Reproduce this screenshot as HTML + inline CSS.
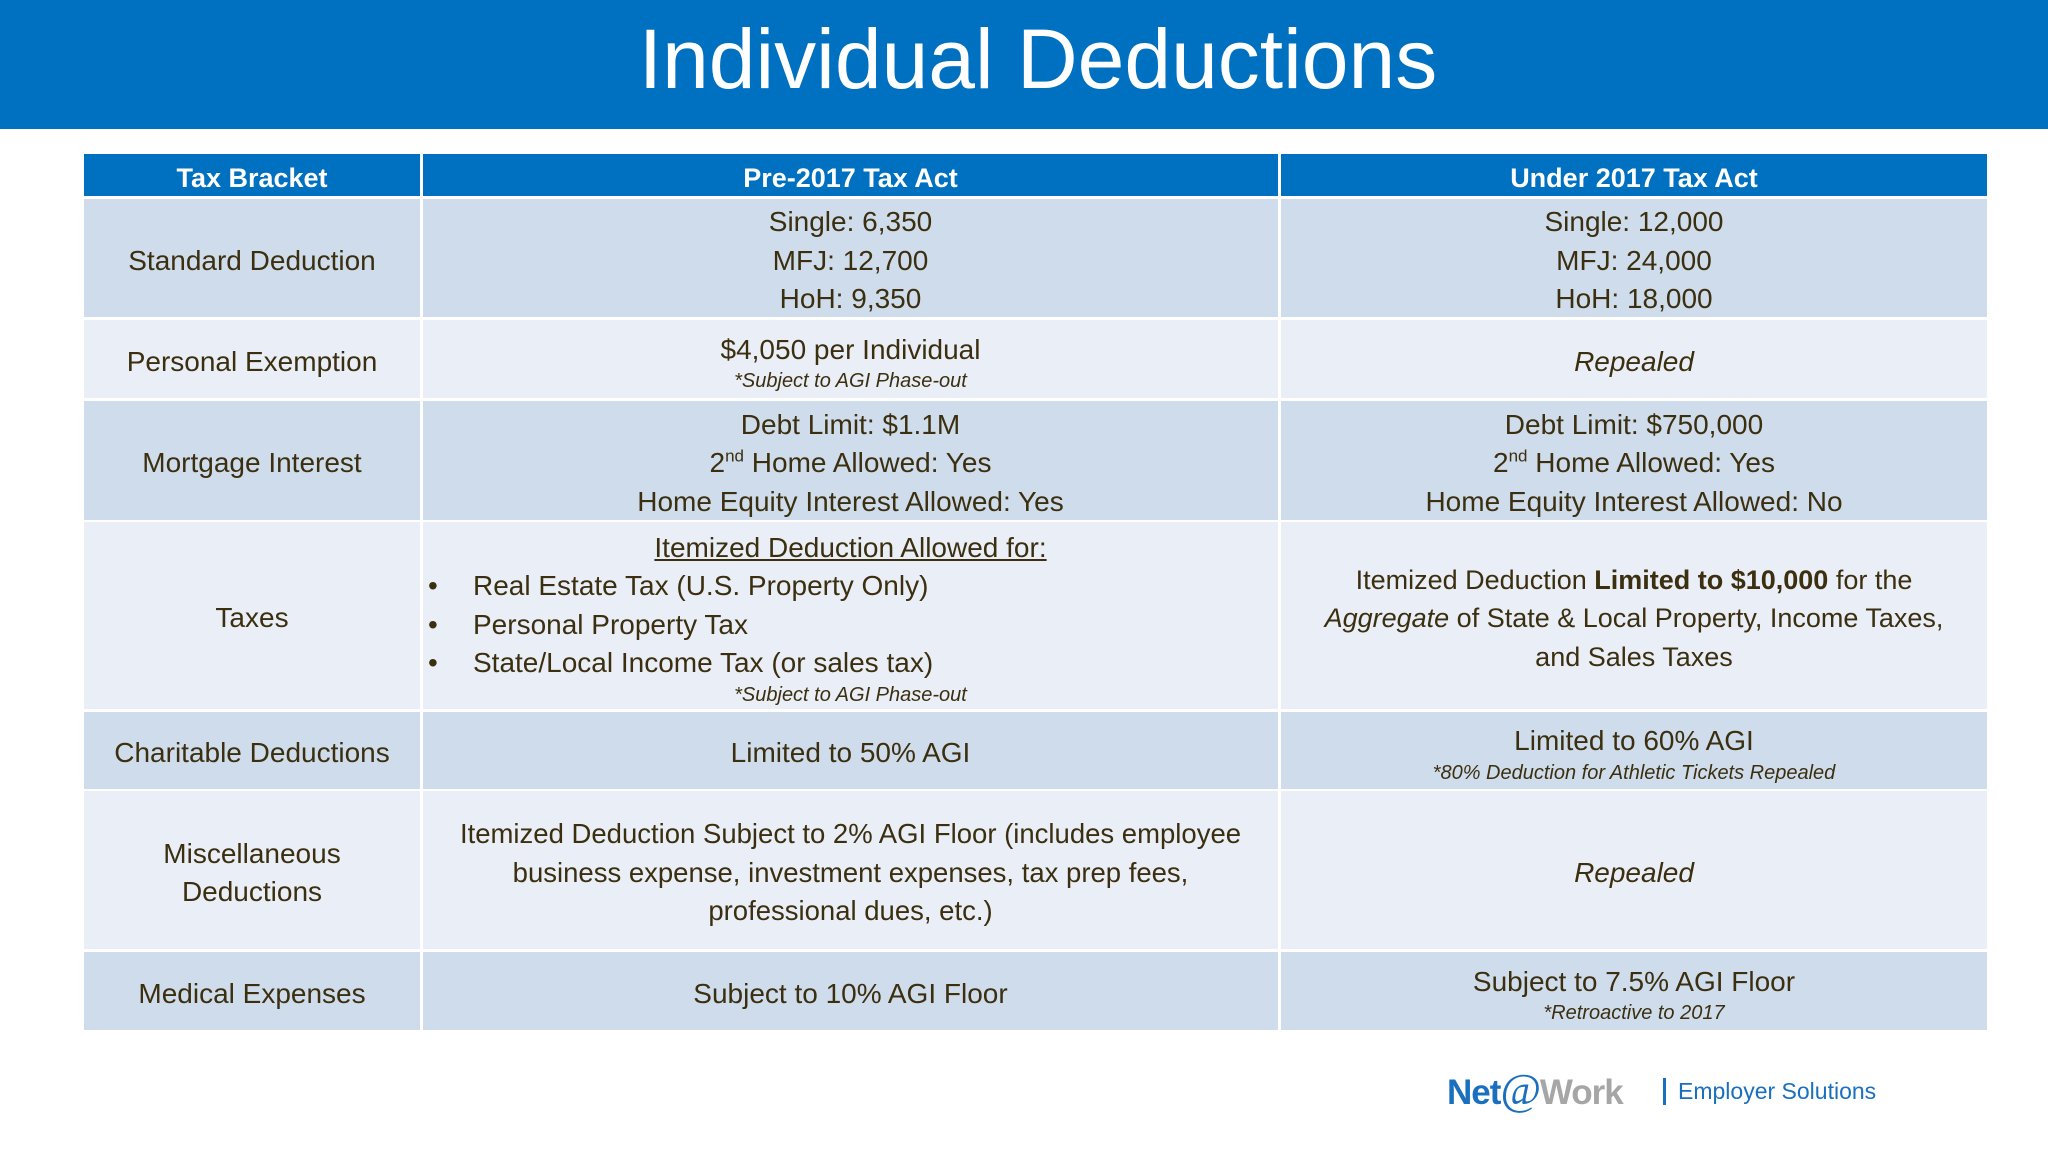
<!DOCTYPE html>
<html><head><meta charset="utf-8"><style>
*{margin:0;padding:0;box-sizing:border-box}
body{width:2048px;height:1152px;background:#fff;position:relative;overflow:hidden;font-family:"Liberation Sans",sans-serif;color:#3b2f10}
#banner{position:absolute;left:0;top:0;width:2048px;height:129px;background:#0070c0}
#title{position:absolute;left:14px;width:2048px;top:4px;text-align:center;color:#fff;font-size:84px;line-height:110px}
.c{position:absolute;display:flex;flex-direction:column;justify-content:center;align-items:center;text-align:center;font-size:28px;line-height:38.5px;white-space:nowrap;padding-top:6px}
.h{background:#0070c0;color:#fff;font-weight:bold;font-size:27px}
.d{background:#cfdcec}.l{background:#e9eef7}
.n{font-style:italic;font-size:20px;line-height:24px}
sup{font-size:17px;line-height:0}
.bl{align-self:flex-start;text-align:left;position:relative}
.bl span{position:absolute;left:-45px}
</style></head><body>
<div id="banner"></div>
<div id="title">Individual Deductions</div>

<div class="c h" style="left:84px;top:154px;width:336px;height:42px">Tax Bracket</div>
<div class="c h" style="left:423px;top:154px;width:855px;height:42px">Pre-2017 Tax Act</div>
<div class="c h" style="left:1281px;top:154px;width:706px;height:42px">Under 2017 Tax Act</div>

<div class="c d" style="left:84px;top:199px;width:336px;height:118px">Standard Deduction</div>
<div class="c d" style="left:423px;top:199px;width:855px;height:118px"><div>Single: 6,350<br>MFJ: 12,700<br>HoH: 9,350</div></div>
<div class="c d" style="left:1281px;top:199px;width:706px;height:118px"><div>Single: 12,000<br>MFJ: 24,000<br>HoH: 18,000</div></div>

<div class="c l" style="left:84px;top:320px;width:336px;height:78px">Personal Exemption</div>
<div class="c l" style="left:423px;top:320px;width:855px;height:78px"><div>$4,050 per Individual</div><div class="n">*Subject to AGI Phase-out</div></div>
<div class="c l" style="left:1281px;top:320px;width:706px;height:78px;font-style:italic">Repealed</div>

<div class="c d" style="left:84px;top:401px;width:336px;height:119px">Mortgage Interest</div>
<div class="c d" style="left:423px;top:401px;width:855px;height:119px"><div>Debt Limit: $1.1M<br>2<sup>nd</sup> Home Allowed: Yes<br>Home Equity Interest Allowed: Yes</div></div>
<div class="c d" style="left:1281px;top:401px;width:706px;height:119px"><div>Debt Limit: $750,000<br>2<sup>nd</sup> Home Allowed: Yes<br>Home Equity Interest Allowed: No</div></div>

<div class="c l" style="left:84px;top:522px;width:336px;height:187px">Taxes</div>
<div class="c l" style="left:423px;top:522px;width:855px;height:187px;padding-left:50px;padding-top:4px;align-items:flex-start">
<div style="align-self:center;margin-left:-50px;text-decoration:underline">Itemized Deduction Allowed for:</div>
<div class="bl"><span>•</span>Real Estate Tax (U.S. Property Only)</div>
<div class="bl"><span>•</span>Personal Property Tax</div>
<div class="bl"><span>•</span>State/Local Income Tax (or sales tax)</div>
<div class="n" style="align-self:center;margin-left:-50px">*Subject to AGI Phase-out</div>
</div>
<div class="c l" style="left:1281px;top:522px;width:706px;height:187px;font-size:27px"><div>Itemized Deduction <b>Limited to $10,000</b> for the<br><i>Aggregate</i> of State &amp; Local Property, Income Taxes,<br>and Sales Taxes</div></div>

<div class="c d" style="left:84px;top:712px;width:336px;height:77px">Charitable Deductions</div>
<div class="c d" style="left:423px;top:712px;width:855px;height:77px">Limited to 50% AGI</div>
<div class="c d" style="left:1281px;top:712px;width:706px;height:77px"><div>Limited to 60% AGI</div><div class="n">*80% Deduction for Athletic Tickets Repealed</div></div>

<div class="c l" style="left:84px;top:791px;width:336px;height:158px"><div>Miscellaneous<br>Deductions</div></div>
<div class="c l" style="left:423px;top:791px;width:855px;height:158px;font-size:27.5px"><div>Itemized Deduction Subject to 2% AGI Floor (includes employee<br>business expense, investment expenses, tax prep fees,<br>professional dues, etc.)</div></div>
<div class="c l" style="left:1281px;top:791px;width:706px;height:158px;font-style:italic">Repealed</div>

<div class="c d" style="left:84px;top:952px;width:336px;height:78px">Medical Expenses</div>
<div class="c d" style="left:423px;top:952px;width:855px;height:78px">Subject to 10% AGI Floor</div>
<div class="c d" style="left:1281px;top:952px;width:706px;height:78px"><div>Subject to 7.5% AGI Floor</div><div class="n">*Retroactive to 2017</div></div>

<div style="position:absolute;left:1447px;top:1068px;height:44px;white-space:nowrap;font-size:35px;font-weight:bold;line-height:44px;letter-spacing:-1px">
<span style="color:#1a6fbe">Net</span><span style="color:#1a6fbe;font-style:italic;font-weight:normal;font-size:44px;font-family:'Liberation Serif',serif">@</span><span style="color:#a6a6a6">Work</span>
</div>
<div style="position:absolute;left:1663px;top:1078px;width:3px;height:27px;background:#1a6fbe"></div>
<div style="position:absolute;left:1678px;top:1073px;font-size:23px;line-height:36px;color:#1a6fbe;white-space:nowrap">Employer Solutions</div>
</body></html>
